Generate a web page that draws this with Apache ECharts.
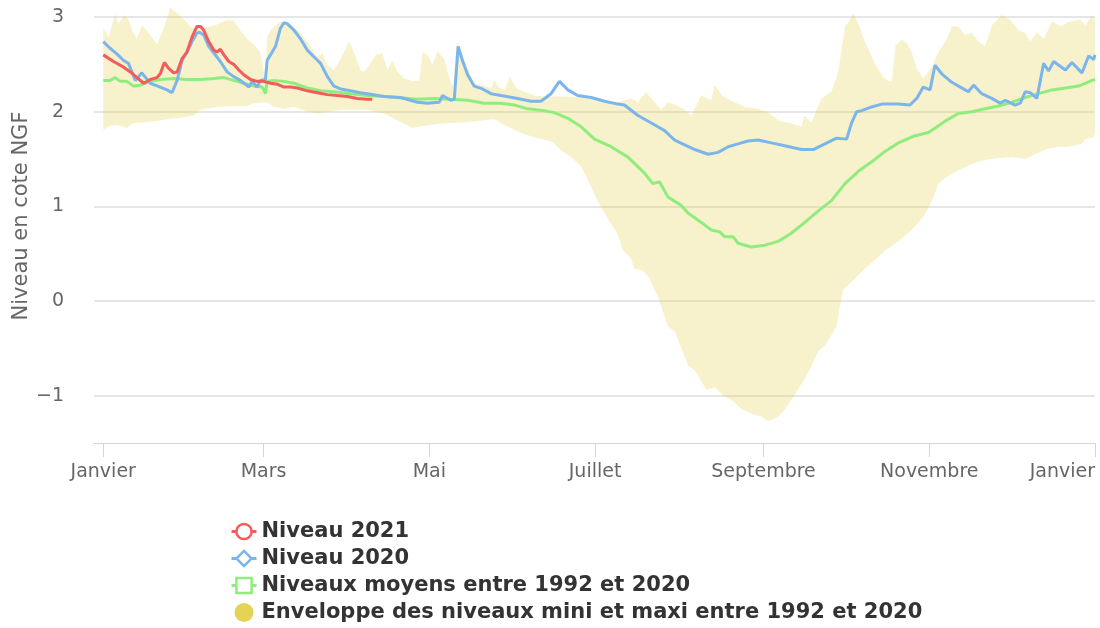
<!DOCTYPE html>
<html>
<head>
<meta charset="utf-8">
<script src="https://cdn.jsdelivr.net/npm/echarts@6/dist/echarts.min.js"></script>
<style>html,body{margin:0;padding:0;background:#fff}#c{width:1100px;height:628px}</style>
</head>
<body>
<div id="c"></div>
<script>
// x values = day of year (0 = 1 janvier)
var monthDays = [0, 59, 120, 181, 243, 304, 365];
var monthLabels = ['Janvier', 'Mars', 'Mai', 'Juillet', 'Septembre', 'Novembre', 'Janvier'];
var yTicks = [-1, 0, 1, 2, 3];

var niveau2021 = [
[0,2.60],[3.8,2.53],[7.5,2.47],[10,2.42],[12.4,2.36],[14.9,2.30],[17.3,2.34],[19.8,2.36],[21,2.40],[22.5,2.52],
[24,2.46],[25.9,2.41],[27.2,2.42],[29,2.56],[30.8,2.63],[32.7,2.79],[34.5,2.90],[35.8,2.90],[37,2.86],[38.8,2.74],
[40.7,2.65],[41.9,2.63],[43.1,2.66],[44.4,2.60],[46.2,2.53],[48,2.50],[49.9,2.44],[51.7,2.39],[54.2,2.34],[56.6,2.32],
[59,2.32],[61.6,2.30],[64,2.29],[66.5,2.26],[68.9,2.26],[71.4,2.25],[75.1,2.22],[78.8,2.20],[82.5,2.18],[86.1,2.17],
[89.8,2.16],[93.5,2.14],[97.2,2.13],[99,2.13]
];

var niveau2020 = [
[0,2.74],[2.5,2.67],[5,2.61],[7.5,2.54],[9.3,2.51],[11.8,2.33],[14.2,2.41],[17.3,2.30],[21,2.26],[23.5,2.23],
[25.3,2.20],[27.2,2.33],[29,2.54],[30.8,2.63],[32.7,2.74],[34.5,2.83],[35.4,2.84],[37,2.81],[38.8,2.69],[40.7,2.62],
[43.1,2.53],[45.6,2.42],[48,2.37],[50.5,2.33],[53.6,2.26],[54.8,2.32],[56.6,2.26],[57.9,2.33],[59.7,2.34],[60.3,2.54],
[62.2,2.63],[63.4,2.69],[65.2,2.88],[66.5,2.94],[67.7,2.93],[70.2,2.86],[72.6,2.77],[75.1,2.65],[77.5,2.58],[80,2.51],
[82.5,2.37],[84.9,2.27],[87.4,2.24],[91,2.22],[94.7,2.20],[97.2,2.19],[103.4,2.16],[109.5,2.15],[115.6,2.10],[119.3,2.09],
[123.6,2.10],[124.9,2.17],[127.9,2.12],[129.2,2.13],[130.6,2.69],[132.2,2.54],[134.1,2.39],[136.5,2.27],[139.6,2.24],[142.7,2.19],
[146.4,2.17],[152.5,2.14],[157.4,2.11],[161.1,2.11],[164.8,2.19],[167.9,2.32],[171,2.23],[174.6,2.17],[179.6,2.15],[184.5,2.11],
[189.4,2.08],[191.8,2.07],[196.8,1.96],[201.7,1.88],[206.6,1.80],[210.3,1.70],[214,1.65],[217.7,1.60],[222.6,1.55],[226.3,1.57],
[230,1.63],[233.6,1.66],[237.3,1.69],[241,1.70],[245.9,1.67],[250.8,1.64],[257,1.60],[261.3,1.60],[265.6,1.66],[269.9,1.72],
[273.6,1.71],[275.4,1.88],[277.3,2.00],[279.1,2.01],[282.8,2.05],[286.5,2.08],[292.6,2.08],[296.9,2.07],[299.4,2.14],[301.8,2.26],
[304.3,2.23],[306.1,2.49],[308.6,2.40],[312.3,2.31],[317.2,2.23],[318.4,2.21],[320.3,2.28],[323.3,2.19],[327,2.14],[330.1,2.09],
[332,2.12],[335.6,2.07],[337.5,2.09],[339.3,2.21],[341.2,2.20],[343.6,2.14],[346.1,2.51],[347.9,2.43],[349.8,2.53],[354.1,2.44],
[356.5,2.52],[360.2,2.41],[362.7,2.59],[364.5,2.55],[365,2.60]
];

var niveauxMoyens = [
[0,2.33],[2.5,2.33],[4.4,2.36],[6.3,2.32],[8.7,2.32],[11.2,2.27],[13.6,2.28],[17.3,2.32],[21,2.34],[25.9,2.35],
[30.8,2.34],[35.8,2.34],[40.7,2.35],[44.4,2.36],[48,2.33],[51.7,2.30],[55.4,2.27],[58.5,2.26],[59.7,2.19],[60.3,2.32],
[62.8,2.33],[66.5,2.32],[70.2,2.30],[75.1,2.25],[80,2.22],[84.9,2.21],[91,2.19],[97.2,2.17],[103.4,2.16],[115.6,2.13],
[121.8,2.14],[127.9,2.13],[134.1,2.12],[140.2,2.09],[146.4,2.09],[151.3,2.07],[156.2,2.03],[162.4,2.01],[166,1.99],[171,1.93],
[175.9,1.84],[180.8,1.71],[186.9,1.63],[193.1,1.52],[199.2,1.35],[202.3,1.24],[204.7,1.26],[207.8,1.10],[212.7,1.01],[215.2,0.93],
[220.1,0.83],[223.8,0.75],[226.9,0.73],[228.7,0.68],[231.8,0.68],[233.6,0.61],[238.5,0.57],[243.5,0.59],[248.4,0.63],[253,0.71],
[258.2,0.83],[263.1,0.95],[268,1.06],[273,1.24],[277.9,1.37],[282.8,1.47],[287.7,1.58],[292.6,1.67],[298.1,1.74],[303.7,1.78],
[307.4,1.85],[309.8,1.90],[314.7,1.98],[319.7,2.00],[324.6,2.03],[329.5,2.06],[334.4,2.10],[339.3,2.15],[344.2,2.19],[349.2,2.23],
[354.1,2.25],[359,2.27],[363.9,2.33],[365,2.34]
];

var enveloppeMaxi = [
[0,2.88],[2,2.79],[4.4,3.04],[5.6,2.93],[7.7,3.02],[9.3,2.97],[10.9,2.84],[12.4,2.77],[14.2,2.91],[16.1,2.86],
[18.5,2.76],[19.8,2.71],[22.2,2.87],[24.7,3.10],[27.2,3.04],[29.6,2.98],[32,2.90],[34.5,2.86],[38.2,2.89],[41.9,2.92],
[45.6,2.97],[48,2.96],[50.5,2.86],[52.9,2.77],[55.4,2.71],[57.9,2.62],[59.7,2.32],[60.3,2.79],[62.2,2.88],[65.2,2.95],
[68.9,2.93],[72.6,2.83],[76.3,2.69],[78.8,2.58],[80.6,2.62],[82.5,2.49],[84.9,2.44],[87.4,2.56],[90.5,2.74],[92.9,2.58],
[94.7,2.44],[96,2.42],[97.8,2.49],[100.3,2.60],[102.7,2.62],[104.6,2.44],[106.4,2.54],[108.3,2.42],[110.7,2.35],[113.8,2.32],
[116.3,2.33],[117.5,2.63],[119.3,2.60],[121.2,2.49],[123,2.64],[125.5,2.56],[127.3,2.37],[128.6,2.26],[130.4,2.74],[132.9,2.54],
[136.5,2.30],[139.6,2.28],[142.7,2.25],[143.9,2.33],[145.8,2.25],[147.6,2.23],[149.8,2.37],[151.9,2.25],[155,2.21],[158.7,2.17],
[162.4,2.16],[171,2.16],[177.1,2.15],[183.2,2.12],[189.4,2.10],[194.3,2.14],[196.8,2.10],[199.8,2.21],[202.3,2.12],[205.4,2.02],
[207.8,2.10],[210.9,2.07],[214,2.02],[216.4,1.96],[220.1,2.17],[223.8,2.12],[225,2.28],[228.1,2.16],[232.4,2.10],[236.1,2.05],
[241,2.03],[244.7,1.99],[249,1.90],[252.7,1.88],[257,1.84],[258,1.96],[260.7,1.88],[262.5,2.02],[264.4,2.14],[268,2.21],
[270.5,2.42],[273,2.90],[274.4,2.95],[276,3.04],[277.9,2.93],[280.3,2.74],[284,2.51],[287.1,2.36],[288.9,2.33],[290.2,2.32],
[291.6,2.70],[293.9,2.76],[295.7,2.72],[297.5,2.63],[299.4,2.46],[301.8,2.35],[304.9,2.47],[307.4,2.63],[310.4,2.76],[312.3,2.90],
[314.7,2.90],[317.2,2.81],[319.7,2.83],[322.1,2.74],[324.6,2.69],[327,2.91],[330.7,3.02],[333.8,2.97],[336.9,2.86],[339.3,2.83],
[341.2,2.74],[343.6,2.84],[346.1,2.77],[349.2,2.95],[352.8,2.90],[355.3,2.95],[359.6,2.97],[361.5,2.91],[363.9,3.02],[365,2.97]
];

var enveloppeMini = [
[0,1.81],[2.5,1.85],[5,1.86],[8.7,1.83],[11.2,1.88],[17.3,1.89],[23.5,1.92],[29.6,1.94],[33.3,1.96],[35.8,2.02],
[41.9,2.05],[48,2.06],[52.9,2.06],[55.4,2.09],[60.3,2.10],[62.8,2.05],[66.5,2.03],[70.2,2.05],[75.1,2.00],[78.8,1.98],
[82.5,2.00],[87.4,2.02],[92.3,2.02],[97.2,2.02],[103.4,1.98],[108.3,1.91],[113.8,1.83],[118.1,1.85],[123,1.87],[127.9,1.88],
[134.1,1.89],[140.2,1.91],[143.9,1.92],[147.6,1.86],[152.5,1.79],[156.2,1.75],[161.1,1.71],[165.4,1.68],[168.5,1.59],[172.2,1.52],
[175.9,1.42],[178.3,1.28],[182,1.05],[185.1,0.90],[189.4,0.70],[191.2,0.54],[194.3,0.45],[195.5,0.34],[198,0.33],[200.4,0.27],
[204.1,0.05],[207.8,-0.27],[210.3,-0.32],[212.1,-0.45],[215.2,-0.68],[217.6,-0.73],[222,-0.94],[225,-0.91],[228.7,-1.01],[231.8,-1.06],
[234.8,-1.14],[238.5,-1.19],[242.2,-1.22],[244.9,-1.27],[248.4,-1.22],[250.8,-1.15],[254.5,-0.99],[258.2,-0.82],[260.7,-0.69],[263.1,-0.53],
[265.6,-0.47],[268,-0.36],[269.9,-0.27],[271.1,-0.06],[272.3,0.12],[275.4,0.20],[280.3,0.34],[287.7,0.53],[292.6,0.63],[297.5,0.75],
[301.8,0.89],[304.9,1.05],[307.4,1.24],[309.8,1.30],[314.7,1.38],[319.7,1.45],[324.6,1.49],[329.5,1.51],[334.4,1.52],[339.3,1.50],
[343,1.55],[346.1,1.59],[347.9,1.61],[351.6,1.63],[355.3,1.63],[360.2,1.66],[361.5,1.71],[364.5,1.73],[365,1.78]
];

var RED = '#f45b5b', BLUE = '#7cb5ec', GREEN = '#90ed7d', YELLOW = '#e4d354';
var FONT = 'DejaVu Sans';

var chart = echarts.init(document.getElementById('c'), null, {renderer: 'canvas'});
chart.setOption({
  animation: false,
  backgroundColor: '#ffffff',
  textStyle: {fontFamily: FONT},
  grid: {left: 94, right: 5, top: 17, bottom: 185, containLabel: false, outerBoundsMode: 'none'},
  xAxis: {
    type: 'value', min: -3.4, max: 365,
    axisLine: {show: true, onZero: false, lineStyle: {color: '#ccd6eb', width: 1}},
    axisTick: {show: true, length: 14, customValues: monthDays, lineStyle: {color: '#ccd6eb', width: 1}},
    axisLabel: {
      customValues: monthDays, margin: 20, color: '#666666', fontSize: 19, fontFamily: FONT,
      alignMaxLabel: 'right',
      formatter: function (v) { var i = monthDays.indexOf(Math.round(v)); return i >= 0 ? monthLabels[i] : ''; }
    },
    splitLine: {show: false}
  },
  yAxis: {
    type: 'value', min: -1.5, max: 3,
    name: 'Niveau en cote NGF', nameLocation: 'middle', nameRotate: 90, nameGap: 62, nameMoveOverlap: false,
    nameTextStyle: {color: '#666666', fontSize: 21, fontFamily: FONT, padding: [0, 0, 0, 28]},
    axisLine: {show: false},
    axisTick: {show: false, customValues: yTicks},
    axisLabel: {
      customValues: yTicks, margin: 30, color: '#666666', fontSize: 19, fontFamily: FONT,
      formatter: function (v) { return v < 0 ? '\u2212' + Math.abs(v) : String(v); }
    },
    splitLine: {show: true, lineStyle: {color: '#e6e6e6', width: 2}}
  },
  legend: {
    orient: 'vertical', left: 230, top: 521, padding: 0, height: 110, itemGap: 6, itemWidth: 25, itemHeight: 19,
    textStyle: {color: '#333333', fontSize: 21, fontWeight: 'bold', fontFamily: FONT, lineHeight: 20},
    data: [
      {name: 'Niveau 2021', itemStyle: {color: '#ffffff', borderColor: RED, borderWidth: 2.5}, lineStyle: {color: RED, width: 3}},
      {name: 'Niveau 2020', itemStyle: {color: '#ffffff', borderColor: BLUE, borderWidth: 2.5}, lineStyle: {color: BLUE, width: 3}},
      {name: 'Niveaux moyens entre 1992 et 2020', itemStyle: {color: '#ffffff', borderColor: GREEN, borderWidth: 2.5}, lineStyle: {color: GREEN, width: 3}},
      {name: 'Enveloppe des niveaux mini et maxi entre 1992 et 2020', icon: 'circle', itemStyle: {color: YELLOW}}
    ]
  },
  series: [
    {
      name: 'Enveloppe des niveaux mini et maxi entre 1992 et 2020',
      type: 'custom', silent: true, z: 1,
      itemStyle: {color: YELLOW},
      data: [[0, 0]],
      renderItem: function (params, api) {
        if (params.dataIndex !== 0) return null;
        var pts = enveloppeMaxi.map(function (p) { return api.coord(p); });
        var lo = enveloppeMini.slice().reverse().map(function (p) { return api.coord(p); });
        return {type: 'polygon', shape: {points: pts.concat(lo)}, style: {fill: 'rgba(228,211,84,0.3)', stroke: null}};
      }
    },
    {
      name: 'Niveaux moyens entre 1992 et 2020', type: 'line', z: 2, data: niveauxMoyens,
      symbol: 'rect', showSymbol: false, smooth: false,
      lineStyle: {color: GREEN, width: 3}, itemStyle: {color: '#ffffff', borderColor: GREEN, borderWidth: 2}
    },
    {
      name: 'Niveau 2020', type: 'line', z: 3, data: niveau2020,
      symbol: 'diamond', showSymbol: false,
      lineStyle: {color: BLUE, width: 3}, itemStyle: {color: '#ffffff', borderColor: BLUE, borderWidth: 2}
    },
    {
      name: 'Niveau 2021', type: 'line', z: 4, data: niveau2021,
      symbol: 'circle', showSymbol: false,
      lineStyle: {color: RED, width: 3}, itemStyle: {color: '#ffffff', borderColor: RED, borderWidth: 2}
    }
  ]
});
</script>
</body>
</html>
